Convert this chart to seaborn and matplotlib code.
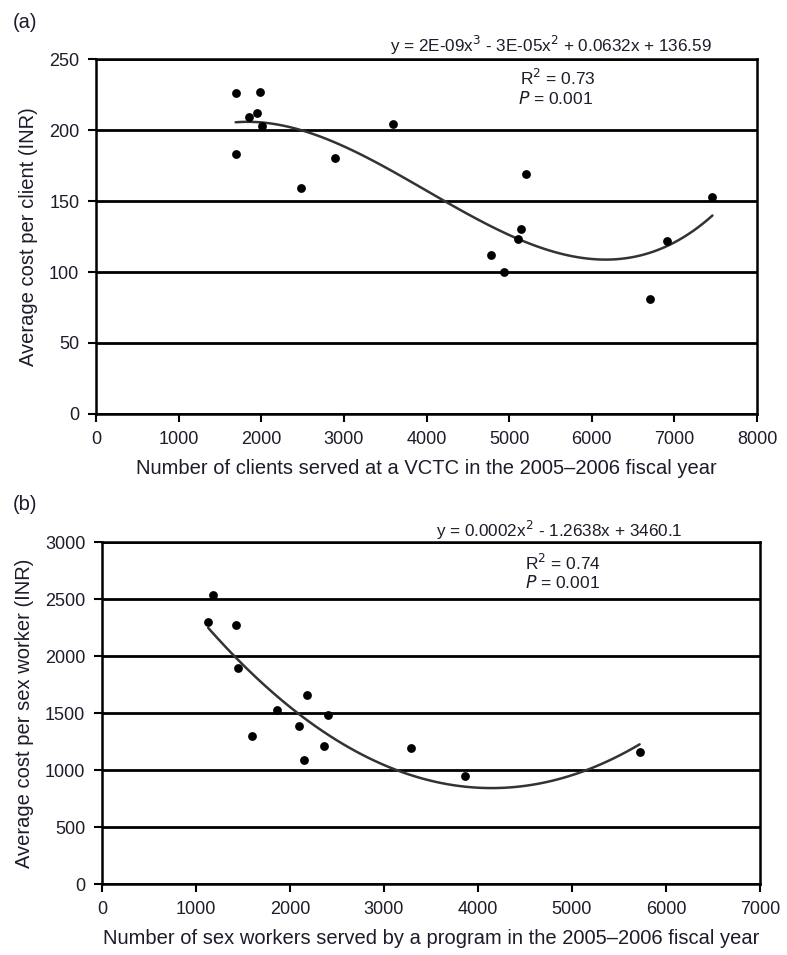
import numpy as np
import pandas as pd
import seaborn as sns
import matplotlib
matplotlib.use("Agg")
import matplotlib.pyplot as plt

# Panel (a): VCTC clients vs average cost per client
clients_served = [1700, 1990, 1850, 1950, 2010, 1690, 2890, 2480, 3600,
                  5200, 5140, 5110, 4780, 4940, 6700, 6910, 7460]
cost_per_client = [226, 227, 209, 212, 203, 183, 180, 159, 204,
                   169, 130, 123, 112, 100, 81, 122, 153]

# Panel (b): sex workers served vs average cost per sex worker
workers_served = [1180, 1130, 1430, 1450, 1860, 2185, 2400, 2095, 1600,
                  2365, 2150, 3290, 3860, 5720]
cost_per_worker = [2540, 2300, 2270, 1900, 1530, 1660, 1480, 1390, 1295,
                   1210, 1085, 1190, 950, 1155]

xticks_a = [0, 1000, 2000, 3000, 4000, 5000, 6000, 7000, 8000]
yticks_a = [0, 50, 100, 150, 200, 250]
xticks_b = [0, 1000, 2000, 3000, 4000, 5000, 6000, 7000]
yticks_b = [0, 500, 1000, 1500, 2000, 2500, 3000]

sns.set_theme(style="white")
plt.rcParams['font.family'] = ['Liberation Sans Narrow', 'Liberation Sans', 'DejaVu Sans']
TXT = '#1c1c2a'

fig = plt.figure(figsize=(7.87, 9.55), dpi=100)
ax_a = fig.add_axes([0.122, 0.5665, 0.840, 0.3717])
ax_b = fig.add_axes([0.1296, 0.0743, 0.836, 0.358])

df_a = pd.DataFrame({'x': clients_served, 'y': cost_per_client})
df_b = pd.DataFrame({'x': workers_served, 'y': cost_per_worker})

sc_kws = dict(s=40, color='black', alpha=1, linewidths=0, zorder=4)
ln_kws = dict(color='#333333', lw=1.8, zorder=3)
sns.regplot(data=df_a, x='x', y='y', order=3, ci=None, ax=ax_a,
            scatter_kws=sc_kws, line_kws=ln_kws)
sns.regplot(data=df_b, x='x', y='y', order=2, ci=None, ax=ax_b,
            scatter_kws=sc_kws, line_kws=ln_kws)


def style(ax, xt, yt, xlabel, ylabel):
    ax.set_xlim(xt[0], xt[-1])
    ax.set_ylim(yt[0], yt[-1])
    ax.set_xticks(xt)
    ax.set_yticks(yt)
    ax.set_xticklabels([str(v) for v in xt])
    ax.set_yticklabels([str(v) for v in yt])
    ax.yaxis.grid(True, color='black', lw=2.0, zorder=1)
    ax.xaxis.grid(False)
    ax.set_axisbelow(True)
    for s in ax.spines.values():
        s.set_color('black')
        s.set_linewidth(1.8)
    ax.tick_params(axis='both', direction='out', length=5.5, width=1.5,
                   color='black', labelsize=13, labelcolor=TXT, pad=6.5)
    ax.tick_params(axis='x', bottom=True)
    ax.tick_params(axis='y', left=True)
    ax.set_xlabel(xlabel, fontsize=14.5, color=TXT, labelpad=8)
    ax.set_ylabel(ylabel, fontsize=14.5, color=TXT, labelpad=8)


style(ax_a, xticks_a, yticks_a,
      'Number of clients served at a VCTC in the 2005\u20132006 fiscal year',
      'Average cost per client (INR)')
style(ax_b, xticks_b, yticks_b,
      'Number of sex workers served by a program in the 2005\u20132006 fiscal year',
      'Average cost per sex worker (INR)')

fig.text(0.016, 1 - 23 / 955, '(a)', fontsize=14.5, color=TXT, va='center')
fig.text(0.016, 1 - 505 / 955, '(b)', fontsize=14.5, color=TXT, va='center')

ax_a.text(0.688, 1.039, r'y = 2E-09x$^{3}$ - 3E-05x$^{2}$ + 0.0632x + 136.59',
          transform=ax_a.transAxes, ha='center', va='center', fontsize=12.3, color=TXT)
ax_a.text(0.641, 0.946, r'R$^{2}$ = 0.73', transform=ax_a.transAxes,
          ha='left', va='center', fontsize=12.5, color=TXT)
ax_a.text(0.638, 0.890, r'$P$ = 0.001', transform=ax_a.transAxes,
          ha='left', va='center', fontsize=12.5, color=TXT)

ax_b.text(0.695, 1.035, r'y = 0.0002x$^{2}$ - 1.2638x + 3460.1',
          transform=ax_b.transAxes, ha='center', va='center', fontsize=12.3, color=TXT)
ax_b.text(0.643, 0.939, r'R$^{2}$ = 0.74', transform=ax_b.transAxes,
          ha='left', va='center', fontsize=12.5, color=TXT)
ax_b.text(0.643, 0.883, r'$P$ = 0.001', transform=ax_b.transAxes,
          ha='left', va='center', fontsize=12.5, color=TXT)

fig.savefig('out.png', dpi=100)
